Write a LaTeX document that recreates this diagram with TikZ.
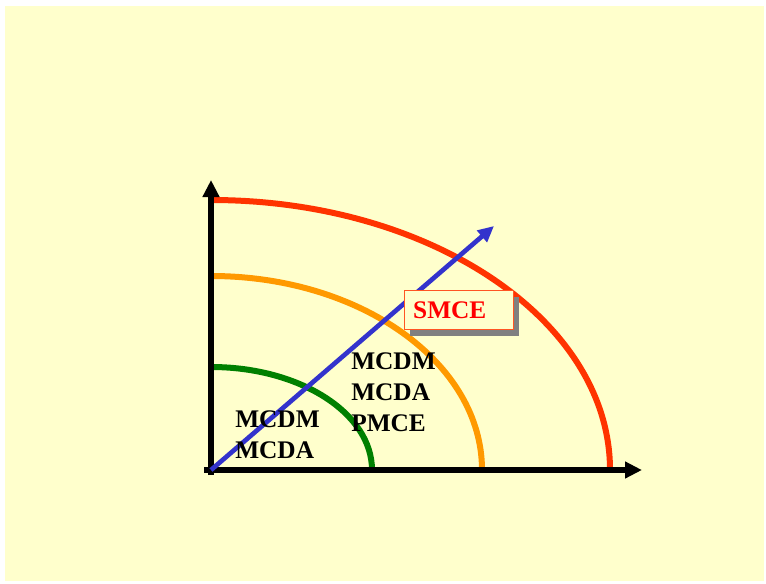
\documentclass[tikz,border=0pt]{standalone}
\usepackage{fontspec}
\setmainfont{Liberation Serif}
\usetikzlibrary{arrows.meta,shadows}
\definecolor{bgyellow}{HTML}{FFFFCC}
\definecolor{arcred}{HTML}{FF3300}
\definecolor{arcorange}{HTML}{FF9900}
\definecolor{arcgreen}{HTML}{008000}
\definecolor{arrowblue}{HTML}{3333CC}
\definecolor{boxedge}{HTML}{FF5522}
\begin{document}
\begin{tikzpicture}[x=0.75pt,y=0.75pt,
  axisline/.style={line width=4.5pt,black,-{Triangle[length=12.75pt,width=12pt]}},
  ring/.style={line width=4.5pt},
  bluearrow/.style={line width=3.5pt,arrowblue,-{Triangle[length=12pt,width=11pt]}},
  lbl/.style={font=\fontsize{19}{23.25}\selectfont\bfseries,align=left,inner sep=0pt,anchor=north west},
  smcebox/.style={draw=boxedge,line width=0.75pt,fill=bgyellow,minimum width=81.75pt,minimum height=29.25pt,
    text width=68pt,inner xsep=6.75pt,inner ysep=0pt,align=left,text=red,
    font=\fontsize{19}{23.25}\selectfont\bfseries,
    drop shadow={shadow xshift=4.5pt,shadow yshift=-4.5pt,fill=gray,opacity=1}}]
\useasboundingbox (0,0) rectangle (766,583);
\fill[bgyellow] (5,2) rectangle (764,577);
% named points
\coordinate (O) at (211,113);
\coordinate (ybot) at (211,108);
\coordinate (ytop) at (211,403);
\coordinate (xleft) at (204,113);
\coordinate (xright) at (642,113);
\coordinate (bluetip) at (494,357);
\coordinate (redstart) at (610,113);
\coordinate (orangestart) at (482,113);
\coordinate (greenstart) at (372,113);
% arcs
\draw[ring,arcred] (redstart) arc[start angle=0,end angle=90,x radius=399,y radius=270];
\draw[ring,arcorange] (orangestart) arc[start angle=0,end angle=90,x radius=271,y radius=194];
\draw[ring,arcgreen] (greenstart) arc[start angle=0,end angle=90,x radius=161,y radius=103];
% axes
\draw[axisline] (ybot) -- (ytop);
\draw[axisline] (xleft) -- (xright);
% blue arrow
\draw[bluearrow] (O) -- (bluetip);
% labels
\node[lbl] (inner) at (235,173) {MCDM\\MCDA};
\node[lbl] (middle) at (351,231) {MCDM\\MCDA\\PMCE};
\node[smcebox] (smce) at (458.5,273) {SMCE};
\end{tikzpicture}
\end{document}
